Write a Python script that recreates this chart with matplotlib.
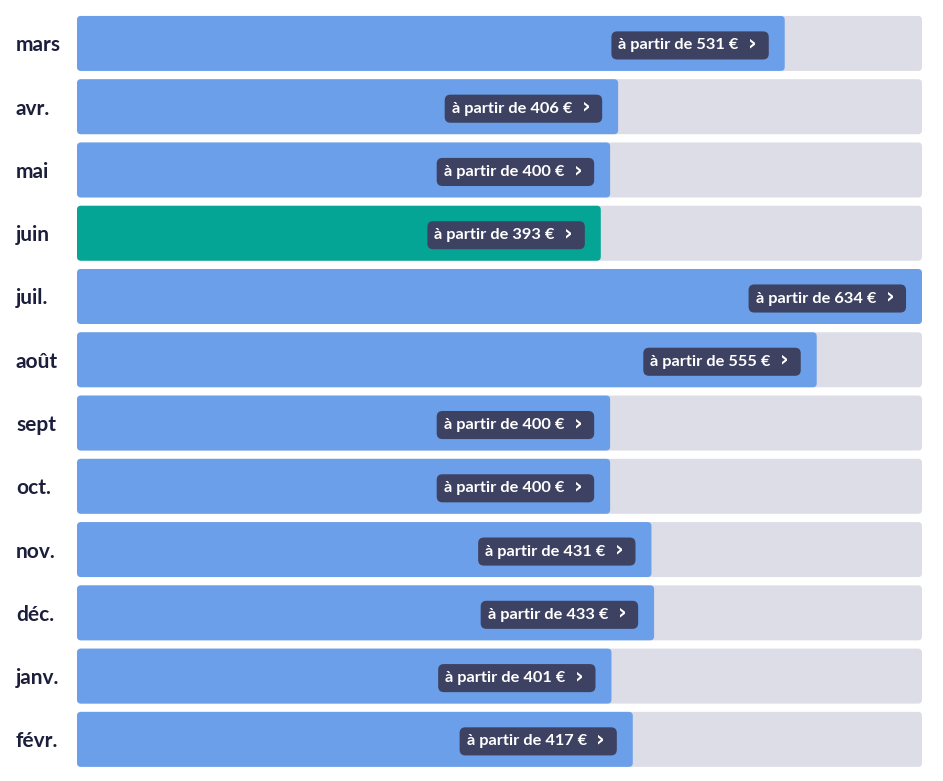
import matplotlib
matplotlib.use("Agg")
import matplotlib.pyplot as plt
from matplotlib.patches import FancyBboxPatch

# mois et prix minimum
mois = ["mars", "avr.", "mai", "juin", "juil.", "août", "sept", "oct.", "nov.", "déc.", "janv.", "févr."]
prix = [531, 406, 400, 393, 634, 555, 400, 400, 431, 433, 401, 417]
mois_actif = "juin"

bleu = "#6b9fe9"
vert = "#05a595"
piste = "#dcdde6"
badge = "#3e4262"
marine = "#1b1f3b"

plt.rcParams["font.family"] = ["Lato", "DejaVu Sans"]

fig = plt.figure(figsize=(9.43, 7.81), dpi=100)
ax = fig.add_axes([77 / 943, 10 / 781, 845 / 943, 759.2 / 781])
xmax = max(prix)
ax.set_xlim(0, xmax)
ax.set_ylim(len(mois) - 0.5, -0.5)
ax.axis("off")

h = 0.869
# unités : px -> données
px_x = xmax / 845
px_y = 1 / 63.27
r = 4 * px_x
asp = px_y / px_x

for i, (m, p) in enumerate(zip(mois, prix)):
    fond = FancyBboxPatch((0, i - h / 2), xmax, h,
                          boxstyle=f"round,pad=0,rounding_size={r}",
                          mutation_aspect=asp, fc=piste, ec="none")
    ax.add_patch(fond)
    c = vert if m == mois_actif else bleu
    barre = FancyBboxPatch((0, i - h / 2), p, h,
                           boxstyle=f"round,pad=0,rounding_size={r}",
                           mutation_aspect=asp, fc=c, ec="none")
    ax.add_patch(barre)
    # badge du prix
    ax.annotate(f"à partir de {p} €" + "\u2007\u2007 ", xy=(p, i), xytext=(-23, -2),
                textcoords="offset pixels", ha="right", va="center",
                color="white", fontsize=11.8, fontweight="bold",
                bbox=dict(boxstyle="round,pad=0.43,rounding_size=0.35",
                          fc=badge, ec="none"))
    ax.annotate("›", xy=(p, i), xytext=(-32, 0), textcoords="offset pixels",
                ha="center", va="center", color="white", fontsize=15,
                fontweight="bold", family="DejaVu Sans")
    ax.text(-61 / 845, i + 2 * px_y, m, transform=ax.get_yaxis_transform(),
            ha="left", va="center", fontsize=15, fontweight="bold", color=marine)

fig.savefig("out.png", dpi=100)
